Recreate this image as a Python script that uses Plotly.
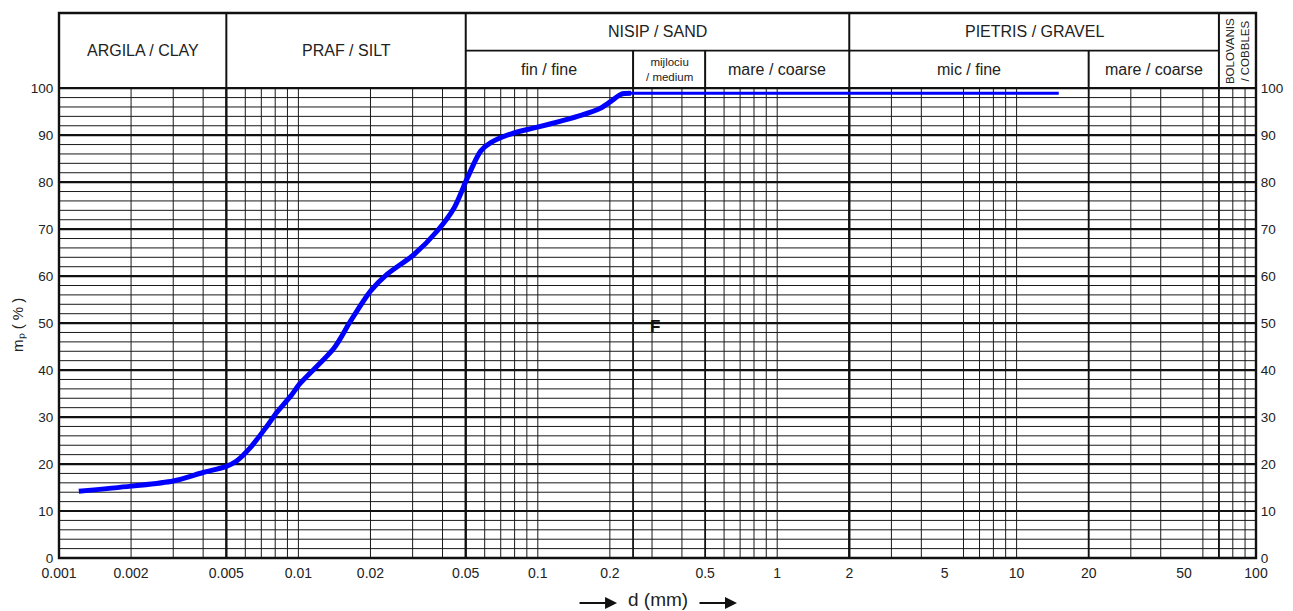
import math
import plotly.graph_objects as go

# ---------------- data ----------------
d_curve = [0.00121, 0.002, 0.003, 0.004, 0.005, 0.0055, 0.0063, 0.0074, 0.0081,
           0.0093, 0.0101, 0.0141, 0.0165, 0.0200, 0.0235, 0.0304, 0.0380, 0.0447,
           0.0508, 0.0577, 0.0636, 0.0796, 0.0997, 0.1248, 0.1513, 0.1834, 0.2020,
           0.2225, 0.245]
p_curve = [14.2, 15.3, 16.4, 18.2, 19.5, 20.6, 23.5, 28.1, 30.9,
           34.5, 37.0, 44.7, 50.4, 56.8, 60.4, 64.6, 69.6, 74.5,
           80.9, 86.6, 88.4, 90.5, 91.7, 93.0, 94.2, 95.8, 97.2,
           98.7, 98.9]
d_flat = [0.245, 15]
p_flat = [98.9, 98.9]

x_tick_vals = [0.001, 0.002, 0.005, 0.01, 0.02, 0.05, 0.1, 0.2, 0.5, 1, 2, 5, 10, 20, 50, 100]
x_tick_text = ["0.001", "0.002", "0.005", "0.01", "0.02", "0.05", "0.1", "0.2", "0.5",
               "1", "2", "5", "10", "20", "50", "100"]
y_tick_vals = [0, 10, 20, 30, 40, 50, 60, 70, 80, 90, 100]

decades = [0.001, 0.01, 0.1, 1, 10]
minor_mult = [2, 3, 4, 6, 7, 8, 9]
major_bound = [0.005, 0.05, 2]
medium_bound = [0.25, 0.5, 20, 70]

# header sections: (label, left, right)
main_sections = [("ARGILA / CLAY", 0.001, 0.005), ("PRAF / SILT", 0.005, 0.05)]
top_sections = [("NISIP / SAND", 0.05, 2), ("PIETRIS / GRAVEL", 2, 70)]
sub_sections = [("fin / fine", 0.05, 0.25), ("mare / coarse", 0.5, 2),
                ("mic / fine", 2, 20), ("mare / coarse", 20, 70)]
medium_label = "mijlociu<br>/ medium"
cobbles_label = "BOLOVANIS<br>/ COBBLES"

Y_TOP = 116
Y_DIV = 108

FONT = "Liberation Sans, Arial, sans-serif"
TXT = "#222"

fig = go.Figure()


def add_lines(pairs, color, width):
    xs, ys = [], []
    for (x0, y0, x1, y1) in pairs:
        xs += [x0, x1, None]
        ys += [y0, y1, None]
    fig.add_trace(go.Scatter(x=xs, y=ys, mode="lines", line=dict(color=color, width=width),
                             hoverinfo="skip", showlegend=False))


# minor verticals
minor_d = [dec * m for dec in decades for m in minor_mult] + [0.01, 0.1, 1, 10]
add_lines([(d, 0, d, 100) for d in minor_d], "#1a1a1a", 1)
# horizontal minor lines every 2 %
add_lines([(0.001, v, 100, v) for v in range(2, 100, 2) if v % 10 != 0], "#1a1a1a", 1)
# horizontal major lines
add_lines([(0.001, v, 100, v) for v in range(10, 101, 10)], "#111111", 2.2)
# medium verticals
add_lines([(d, 0, d, 100) for d in medium_bound], "#111111", 1.8)
# major verticals
add_lines([(d, 0, d, 100) for d in major_bound], "#111111", 2.4)
# header lines
add_lines([(d, 100, d, Y_TOP) for d in [0.005, 0.05, 2, 70]], "#111111", 2)
add_lines([(d, 100, d, Y_DIV) for d in [0.25, 0.5, 20]], "#111111", 2)
add_lines([(0.05, Y_DIV, 70, Y_DIV)], "#111111", 1.6)

# curve
fig.add_trace(go.Scatter(x=d_curve, y=p_curve, mode="lines", yaxis="y2",
                         line=dict(color="rgb(0,0,255)", width=5, shape="spline", smoothing=0.8),
                         hoverinfo="skip", showlegend=False))
fig.add_trace(go.Scatter(x=d_flat, y=p_flat, mode="lines", yaxis="y2",
                         line=dict(color="rgb(0,0,255)", width=3),
                         hoverinfo="skip", showlegend=False))


def mid(a, b):
    return (math.log10(a) + math.log10(b)) / 2


ann = []
for lab, a, b in main_sections:
    ann.append(dict(x=mid(a, b), y=108.1, xref="x", yref="y", text=lab, showarrow=False,
                    font=dict(family=FONT, size=16, color=TXT)))
for lab, a, b in top_sections:
    ann.append(dict(x=mid(a, b), y=112.0, xref="x", yref="y", text=lab, showarrow=False,
                    font=dict(family=FONT, size=16, color=TXT)))
for lab, a, b in sub_sections:
    ann.append(dict(x=mid(a, b), y=103.9, xref="x", yref="y", text=lab, showarrow=False,
                    font=dict(family=FONT, size=16, color=TXT)))
ann.append(dict(x=mid(0.25, 0.5), y=103.9, xref="x", yref="y", text=medium_label,
                showarrow=False, font=dict(family=FONT, size=11.5, color=TXT)))
ann.append(dict(x=mid(70, 100), y=108.0, xref="x", yref="y", text=cobbles_label,
                showarrow=False, textangle=-90,
                font=dict(family=FONT, size=11.5, color=TXT)))
ann.append(dict(x=math.log10(0.309), y=49.2, xref="x", yref="y", text="<b>F</b>",
                showarrow=False, font=dict(family=FONT, size=17, color="#111")))
# axis titles
ann.append(dict(x=-0.0343, y=0.4275, xref="paper", yref="paper", textangle=-90,
                xanchor="center", yanchor="middle",
                text="m\u209a ( % )", showarrow=False,
                font=dict(family=FONT, size=15, color=TXT)))
ann.append(dict(x=0.5004, y=-0.077, xref="paper", yref="paper", text="d (mm)",
                xanchor="center", yanchor="middle", borderpad=0,
                showarrow=False, font=dict(family=FONT, size=19, color=TXT)))
for xh in [0.4662, 0.5664]:
    ann.append(dict(x=xh, y=-0.0826, xref="paper", yref="paper", text="", showarrow=True,
                    ax=-39, ay=0, axref="pixel", ayref="pixel", arrowhead=2, arrowsize=1.2,
                    arrowwidth=2, arrowcolor="#111"))

fig.update_layout(
    width=1293, height=611,
    margin=dict(l=59, r=37, t=13, b=53, autoexpand=False),
    paper_bgcolor="white", plot_bgcolor="white",
    showlegend=False,
    annotations=ann,
    shapes=[dict(type="rect", xref="paper", yref="paper", x0=0, y0=0, x1=1, y1=1,
                 line=dict(color="#111", width=2.4))],
    xaxis=dict(type="log", range=[-3, 2], tickvals=x_tick_vals, ticktext=x_tick_text,
               showgrid=False, zeroline=False, showline=False, ticks="outside",
               ticklen=2, tickcolor="rgba(0,0,0,0)", automargin=False,
               tickfont=dict(family=FONT, size=14, color=TXT), fixedrange=True),
    yaxis=dict(range=[0, Y_TOP], tickvals=y_tick_vals, showgrid=False, zeroline=False,
               showline=False, ticks="outside", ticklen=2, tickcolor="rgba(0,0,0,0)",
               automargin=False,
               tickfont=dict(family=FONT, size=13.5, color=TXT), fixedrange=True),
    yaxis2=dict(range=[0, Y_TOP], tickvals=y_tick_vals, overlaying="y", side="right",
                showgrid=False, zeroline=False, showline=False, ticks="outside", ticklen=1,
                tickcolor="rgba(0,0,0,0)", automargin=False,
                tickfont=dict(family=FONT, size=13.5, color=TXT), fixedrange=True),
)

fig.write_html("out.html")
